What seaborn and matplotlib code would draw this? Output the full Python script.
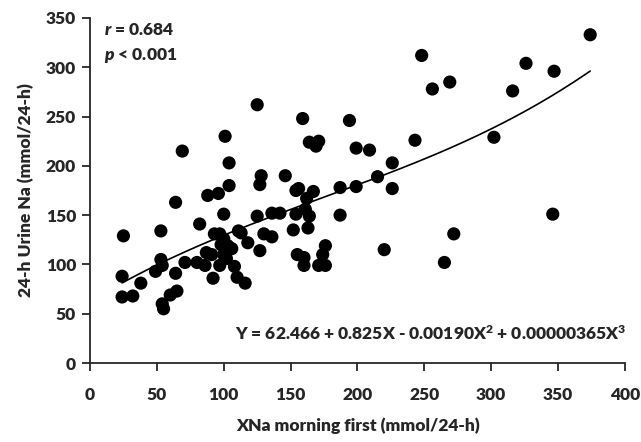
import numpy as np
import pandas as pd
import matplotlib
matplotlib.use("Agg")
import matplotlib.pyplot as plt
import seaborn as sns

# XNa morning first vs 24-h urine Na
xna = [25, 24, 24, 32, 38, 49, 53, 53, 54, 54, 55, 60, 65, 64, 64, 69, 71, 80,
       82, 86, 87, 88, 91, 92, 93, 96, 97, 98, 100, 100, 100, 97, 101, 102, 103,
       104, 104, 106, 108, 110, 111, 113, 116, 118, 125, 125, 127, 127, 128, 130,
       136, 136, 142, 146, 152, 154, 154, 156, 155, 159, 160, 160, 161, 162, 163,
       164, 164, 167, 169, 171, 171, 174, 176, 176, 187, 187, 194, 199, 199, 209,
       215, 220, 226, 226, 243, 248, 256, 265, 269, 272, 302, 316, 326, 347, 346,
       374]
urine_na = [129, 88, 67, 68, 81, 93, 134, 105, 99, 60, 55, 69, 73, 91, 163, 215,
            102, 102, 141, 99, 112, 170, 110, 86, 131, 172, 131, 120, 151, 126, 110,
            99, 230, 106, 119, 203, 180, 116, 98, 87, 134, 132, 81, 122, 262, 149,
            114, 181, 190, 131, 128, 152, 152, 190, 135, 151, 175, 177, 110, 248,
            107, 99, 156, 167, 137, 149, 224, 174, 220, 225, 99, 110, 99, 119, 150,
            178, 246, 179, 218, 216, 189, 115, 203, 177, 226, 312, 278, 102, 285,
            131, 229, 276, 304, 296, 151, 333]

# cubic fit reported in the figure
coef = [62.466, 0.825, -0.00190, 0.00000365]
r_text = "$r$ = 0.684"
p_text = "$p$ < 0.001"
eq_text = "Y = 62.466 + 0.825X - 0.00190X$^2$ + 0.00000365X$^3$"

df = pd.DataFrame({"x": xna, "y": urine_na})
xs = np.linspace(min(xna), max(xna), 200)
fit = pd.DataFrame({"x": xs, "y": coef[0] + coef[1] * xs + coef[2] * xs**2 + coef[3] * xs**3})

sns.set_style("ticks")
W = "heavy"
plt.rcParams["font.family"] = ["Lato", "DejaVu Sans"]
plt.rcParams["font.weight"] = W
plt.rcParams["mathtext.fontset"] = "custom"
plt.rcParams["mathtext.rm"] = "Lato:" + W
plt.rcParams["mathtext.it"] = "Lato:italic:" + W
plt.rcParams["mathtext.bf"] = "Lato:" + W

fig = plt.figure(figsize=(6.41, 4.42), dpi=100)
ax = fig.add_axes([0.1404, 0.1787, 0.8346, 0.7806])

sns.scatterplot(data=df, x="x", y="y", ax=ax, color="black", s=90, edgecolor="none")
sns.lineplot(data=fit, x="x", y="y", ax=ax, color="black", linewidth=1.2)

ax.set_xlim(0, 400)
ax.set_ylim(0, 350)
ax.set_xticks(range(0, 401, 50))
ax.set_yticks(range(0, 351, 50))
sns.despine(ax=ax)
for s in ["left", "bottom"]:
    ax.spines[s].set_linewidth(1.3)
ax.tick_params(direction="out", length=6, width=1.3, labelsize=12.5, pad=11)
ax.tick_params(axis="y", pad=4)
for lab in ax.get_xticklabels() + ax.get_yticklabels():
    lab.set_fontweight(W)

ax.set_xlabel("XNa morning first (mmol/24-h)", fontsize=12.5, fontweight=W, labelpad=11)
ax.set_ylabel("24-h Urine Na (mmol/24-h)", fontsize=12.5, fontweight=W, labelpad=8)

ax.text(10.5, 338, r_text, fontsize=12.5, fontweight=W, va="center")
ax.text(10.5, 312, p_text, fontsize=12.5, fontweight=W, va="center")
ax.text(401, 30, eq_text, fontsize=12.5, fontweight=W, va="center", ha="right")

fig.savefig("out.png", dpi=100)
